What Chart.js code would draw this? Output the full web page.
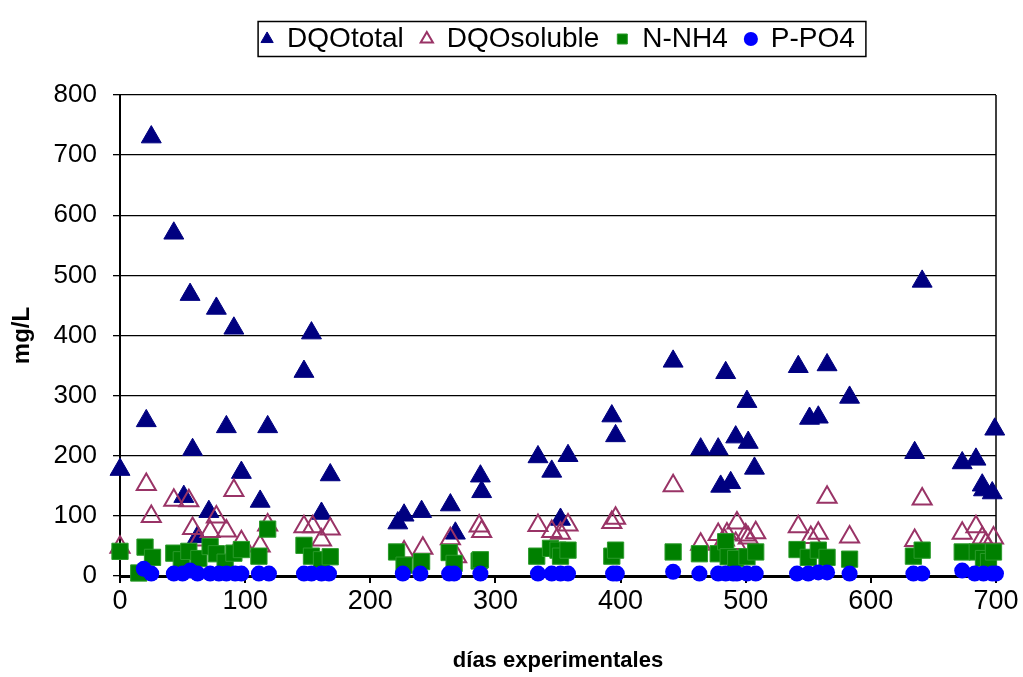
<!DOCTYPE html>
<html>
<head>
<meta charset="utf-8">
<script src="https://cdn.jsdelivr.net/npm/chart.js@4.4.1/dist/chart.umd.min.js"></script>
<style>
  html, body { margin: 0; padding: 0; background: #fff; }
  #caja { width: 1023px; height: 677px; }
</style>
</head>
<body>
<div id="caja"><canvas id="grafico"></canvas></div>
<script>
// días experimentales y valores (mg/L)
const diasDQOtotal = [0, 21, 25, 43, 51, 56, 58, 62, 71, 77, 85, 91, 97, 112, 118, 147, 153, 161, 168,
  222, 227, 241, 264, 268, 288, 289, 334, 345, 352, 358, 393, 396, 442, 464, 478, 480, 484, 488, 492,
  501, 502, 507, 542, 551, 558, 565, 583, 635, 641, 673, 684, 689, 690, 697, 699];
const valDQOtotal = [177, 258, 730, 570, 132, 468, 210, 65, 107, 445, 248, 412, 172, 124, 248, 340, 404, 104, 168,
  88, 101, 107, 118, 71, 166, 140, 198, 174, 94, 200, 266, 233, 357, 211, 211, 149, 338, 155, 231,
  290, 222, 179, 348, 262, 264, 351, 297, 205, 490, 188, 194, 151, 143, 138, 244];

const diasDQOsoluble = [0, 21, 25, 43, 55, 58, 63, 72, 77, 85, 91, 97, 112, 118, 147, 154, 161, 168,
  227, 242, 264, 269, 287, 289, 334, 345, 352, 358, 393, 396, 442, 464, 478, 483, 485, 492, 493, 500,
  502, 508, 542, 552, 558, 565, 583, 635, 641, 673, 684, 689, 692, 698];
const valDQOsoluble = [48, 152, 99, 126, 125, 79, 60, 74, 98, 75, 142, 57, 50, 85, 82, 82, 60, 78,
  40, 46, 62, 32, 83, 74, 84, 74, 71, 85, 89, 96, 150, 53, 69, 60, 70, 54, 88, 68,
  63, 72, 82, 64, 71, 131, 65, 59, 128, 71, 82, 63, 54, 63];

const diasNNH4 = [0, 15, 20, 26, 43, 49, 55, 63, 72, 77, 84, 91, 97, 111, 118, 147, 153, 161, 168,
  221, 227, 241, 263, 267, 287, 288, 333, 344, 350, 352, 358, 393, 396, 442, 463, 478, 484, 486, 492,
  501, 508, 541, 550, 558, 565, 583, 634, 641, 673, 685, 690, 694, 698];
const valNNH4 = [41, 5, 48, 31, 38, 27, 41, 29, 49, 37, 23, 38, 44, 33, 78, 51, 33, 27, 32,
  40, 18, 24, 39, 21, 25, 27, 33, 46, 43, 33, 43, 33, 43, 40, 37, 37, 57, 32, 29,
  32, 40, 44, 31, 43, 31, 28, 33, 43, 40, 40, 29, 24, 40];

const diasPPO4 = [19, 25, 43, 50, 56, 62, 72, 79, 85, 92, 97, 111, 119, 147, 153, 161, 167,
  226, 240, 263, 267, 288, 334, 345, 352, 358, 394, 397, 442, 463, 478, 484, 490, 493, 501, 508,
  541, 550, 558, 565, 583, 634, 641, 673, 683, 690, 697, 700];
const valPPO4 = [12, 4, 4, 4, 9, 4, 4, 4, 4, 4, 4, 4, 4, 4, 4, 4, 4,
  4, 4, 4, 4, 4, 4, 4, 4, 4, 4, 4, 7, 4, 4, 4, 4, 4, 4, 4,
  4, 4, 6, 6, 4, 4, 4, 9, 4, 4, 4, 4];

const ticksX = [0, 100, 200, 300, 400, 500, 600, 700];
const ticksY = [0, 100, 200, 300, 400, 500, 600, 700, 800];

function puntos(dias, valores) {
  return dias.map((d, i) => ({ x: d, y: valores[i] }));
}

const fuente = "'Liberation Sans', Arial, sans-serif";

// marco derecho del área de trazado y recuadro de la leyenda
const marco = {
  id: 'marco',
  beforeDatasetsDraw(chart) {
    const { ctx, chartArea: a } = chart;
    ctx.save();
    ctx.strokeStyle = '#000';
    ctx.lineWidth = 1.5;
    ctx.beginPath();
    ctx.moveTo(a.right, a.top);
    ctx.lineTo(a.right, a.bottom);
    ctx.stroke();
    ctx.restore();
  },
  afterDraw(chart) {
    const hb = chart.legend && chart.legend.legendHitBoxes;
    if (!hb || !hb.length) return;
    const ultimo = hb[hb.length - 1];
    const izq = hb[0].left - 3;
    const der = ultimo.left + ultimo.width + 11;
    const cy = hb[0].top + hb[0].height / 2;
    const ctx = chart.ctx;
    ctx.save();
    ctx.strokeStyle = '#000';
    ctx.lineWidth = 1.5;
    ctx.strokeRect(izq, cy - 17.5, der - izq, 35);
    ctx.restore();
  }
};

new Chart(document.getElementById('grafico'), {
  type: 'scatter',
  data: {
    datasets: [
      {
        label: 'DQOtotal',
        data: puntos(diasDQOtotal, valDQOtotal),
        pointStyle: 'triangle',
        pointRadius: 11.5,
        backgroundColor: '#000080',
        borderColor: '#000080',
        borderWidth: 1,
        order: 3,
        clip: false
      },
      {
        label: 'DQOsoluble',
        data: puntos(diasDQOsoluble, valDQOsoluble),
        pointStyle: 'triangle',
        pointRadius: 11,
        backgroundColor: 'rgba(0,0,0,0)',
        borderColor: '#993366',
        borderWidth: 2,
        order: 2,
        clip: false
      },
      {
        label: 'N-NH4',
        data: puntos(diasNNH4, valNNH4),
        pointStyle: 'rect',
        pointRadius: 11.5,
        backgroundColor: '#008000',
        borderColor: '#2a9a2a',
        borderWidth: 1,
        order: 1,
        clip: false
      },
      {
        label: 'P-PO4',
        data: puntos(diasPPO4, valPPO4),
        pointStyle: 'circle',
        pointRadius: 8,
        backgroundColor: '#0000ff',
        borderColor: '#0000ff',
        borderWidth: 0,
        order: 0,
        clip: false
      }
    ]
  },
  options: {
    responsive: true,
    maintainAspectRatio: false,
    animation: false,
    layout: { padding: { top: 8, right: 27, left: 0, bottom: 0 } },
    plugins: {
      legend: {
        display: true,
        position: 'top',
        fullSize: false,
        labels: {
          usePointStyle: true,
          boxWidth: 12,
          boxHeight: 10,
          padding: 17,
          color: '#000',
          font: { family: fuente, size: 28 },
          sort: (a, b) => a.datasetIndex - b.datasetIndex
        }
      },
      title: {
        display: true,
        text: '',
        weight: 500,
        font: { size: 10, lineHeight: 1 },
        padding: { top: 11, bottom: 11 }
      },
      tooltip: { enabled: false }
    },
    scales: {
      x: {
        type: 'linear',
        min: 0,
        max: 700,
        afterFit: (s) => { s.height = 101; },
        afterBuildTicks: (s) => { s.ticks = ticksX.map(v => ({ value: v })); },
        grid: { drawOnChartArea: false, drawTicks: true, tickLength: 7, color: '#000', lineWidth: 2 },
        border: { display: true, color: '#000', width: 3 },
        ticks: { color: '#000', font: { family: fuente, size: 27 }, padding: 2, maxRotation: 0 },
        title: {
          display: true,
          text: 'días experimentales',
          color: '#000',
          font: { family: fuente, size: 22, weight: 'bold' },
          padding: { top: 0, bottom: 3 }
        }
      },
      y: {
        type: 'linear',
        min: 0,
        max: 800,
        afterFit: (s) => { s.width = 120; },
        afterBuildTicks: (s) => { s.ticks = ticksY.map(v => ({ value: v })); },
        grid: { drawTicks: true, tickLength: 7, color: '#000', lineWidth: 1.3 },
        border: { display: true, color: '#000', width: 2 },
        ticks: { color: '#000', font: { family: fuente, size: 26 }, padding: 16 },
        title: {
          display: true,
          text: 'mg/L',
          color: '#000',
          font: { family: fuente, size: 24, weight: 'bold' },
          padding: { top: 8, bottom: 0 }
        }
      }
    }
  },
  plugins: [marco]
});
</script>
</body>
</html>
